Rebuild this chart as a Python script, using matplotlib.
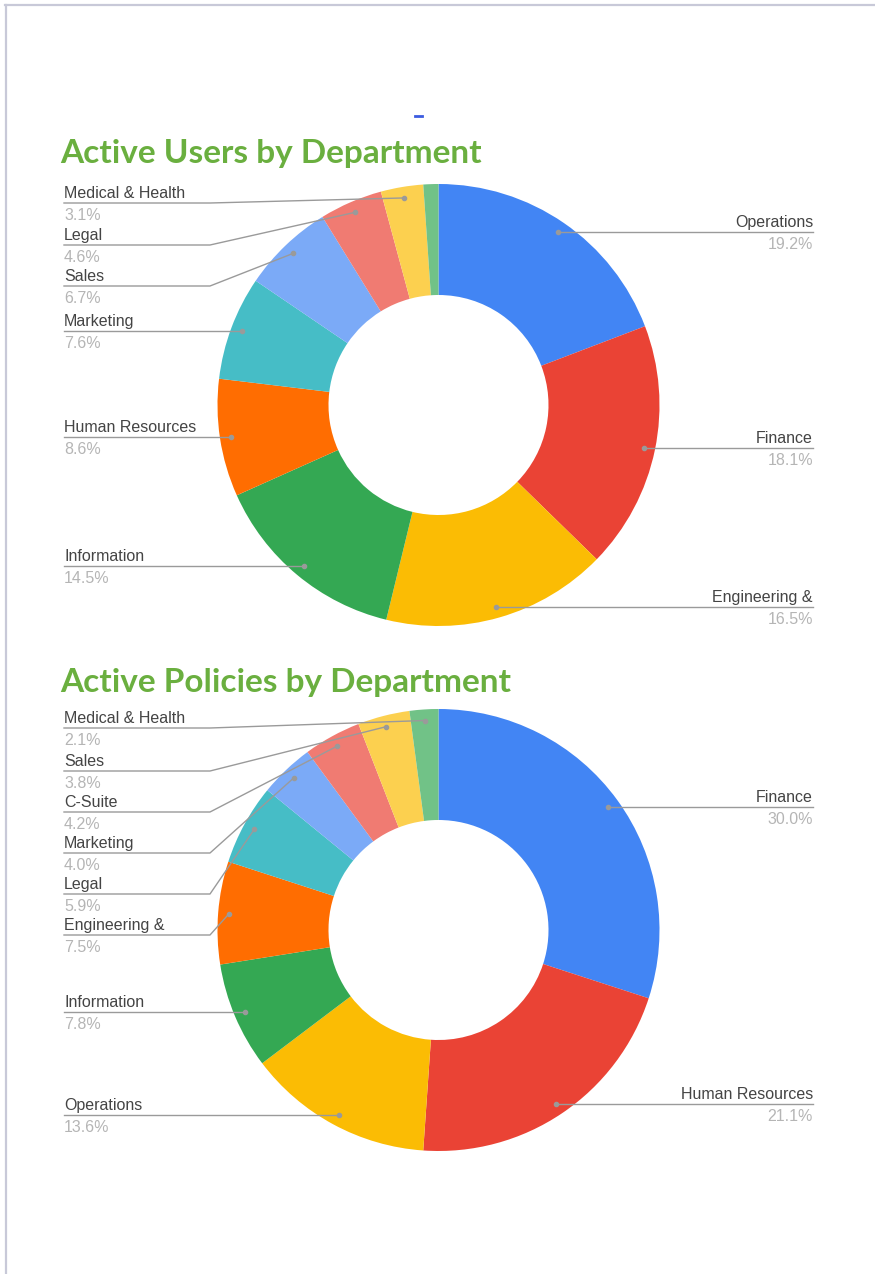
import numpy as np
import matplotlib
matplotlib.use("Agg")
import matplotlib.pyplot as plt

# ---------------------------------------------------------------- data
users_depts  = ["Operations", "Finance", "Engineering &", "Information",
                "Human Resources", "Marketing", "Sales", "Legal",
                "Medical & Health", None]
users_share  = [19.2, 18.1, 16.5, 14.5, 8.6, 7.6, 6.7, 4.6, 3.1, 1.1]

policies_depts = ["Finance", "Human Resources", "Operations", "Information",
                  "Engineering &", "Legal", "Marketing", "C-Suite", "Sales",
                  "Medical & Health"]
policies_share = [30.0, 21.1, 13.6, 7.8, 7.5, 5.9, 4.0, 4.2, 3.8, 2.1]

# leader line height (image px) for labels that are stacked, None = level with dot
users_line_y    = [None, None, None, None, None, None, 286, 245, 203, None]
policies_line_y = [None, None, None, None, 935, 894, 853, 812, 771, 728]

colors = ["#4285F4", "#EA4335", "#FBBC04", "#34A853", "#FF6D01",
          "#46BDC6", "#7BAAF7", "#F07B72", "#FCD04F", "#71C287"]

W, H = 875, 1274
TITLE_GREEN = "#6AAF3F"
LINE_GREY = "#9a9a9a"

fig = plt.figure(figsize=(W / 100, H / 100), dpi=100)
ax = fig.add_axes([0, 0, 1, 1])

def Y(y) :
    # image pixel row -> data y
    return H - y

def donut (ax, values, names, line_y, cx, cy, R=221, width=111) :
    wedges, _ = ax.pie(values, colors=colors, startangle=90, counterclock=False,
                       radius=R, center=(cx, Y(cy)),
                       wedgeprops=dict(width=width, linewidth=0))
    for w, name, val, ly in zip(wedges, names, values, line_y) :
        if name is None :
            continue
        ang = np.deg2rad((w.theta1 + w.theta2) / 2)
        dx = cx + 0.95 * R * np.cos(ang)
        dy = Y(cy) + 0.95 * R * np.sin(ang)
        yl = dy if ly is None else Y(ly)
        if dx < cx :
            ax.plot([64, 210, dx], [yl, yl, dy], color=LINE_GREY, lw=1.0)
            x_txt, ha = 64, "left"
        else :
            ax.plot([dx, 813], [yl, yl], color=LINE_GREY, lw=1.0)
            x_txt, ha = 813, "right"
        ax.plot(dx, dy, "o", ms=3, color=LINE_GREY)
        ax.text(x_txt, yl + 5, name, ha=ha, va="baseline", fontsize=11.5,
                family="Liberation Sans", color="#444444")
        ax.text(x_txt, yl - 17, f"{val:.1f}%", ha=ha, va="baseline", fontsize=11.5,
                family="Liberation Sans", color="#b5b5b5")

donut(ax, users_share, users_depts, users_line_y, 438.5, 405)
donut(ax, policies_share, policies_depts, policies_line_y, 438.5, 930)

ax.text(60, Y(163), "Active Users by Department", fontsize=24, fontweight="bold",
        family="Lato", color=TITLE_GREEN, va="baseline")
ax.text(60, Y(692), "Active Policies by Department", fontsize=24, fontweight="bold",
        family="Lato", color=TITLE_GREEN, va="baseline")

# page frame and the stray blue mark above the first chart
ax.plot([5, W], [Y(5), Y(5)], color="#c8c9d8", lw=1.6)
ax.plot([6, 6], [Y(5), 0], color="#c8c9d8", lw=1.6)
ax.plot([415, 422], [Y(116), Y(116)], color="#3c5ce0", lw=2)

ax.set_xlim(0, W)
ax.set_ylim(0, H)
ax.set_aspect("equal")
ax.axis("off")

fig.savefig("out.png", dpi=100)
